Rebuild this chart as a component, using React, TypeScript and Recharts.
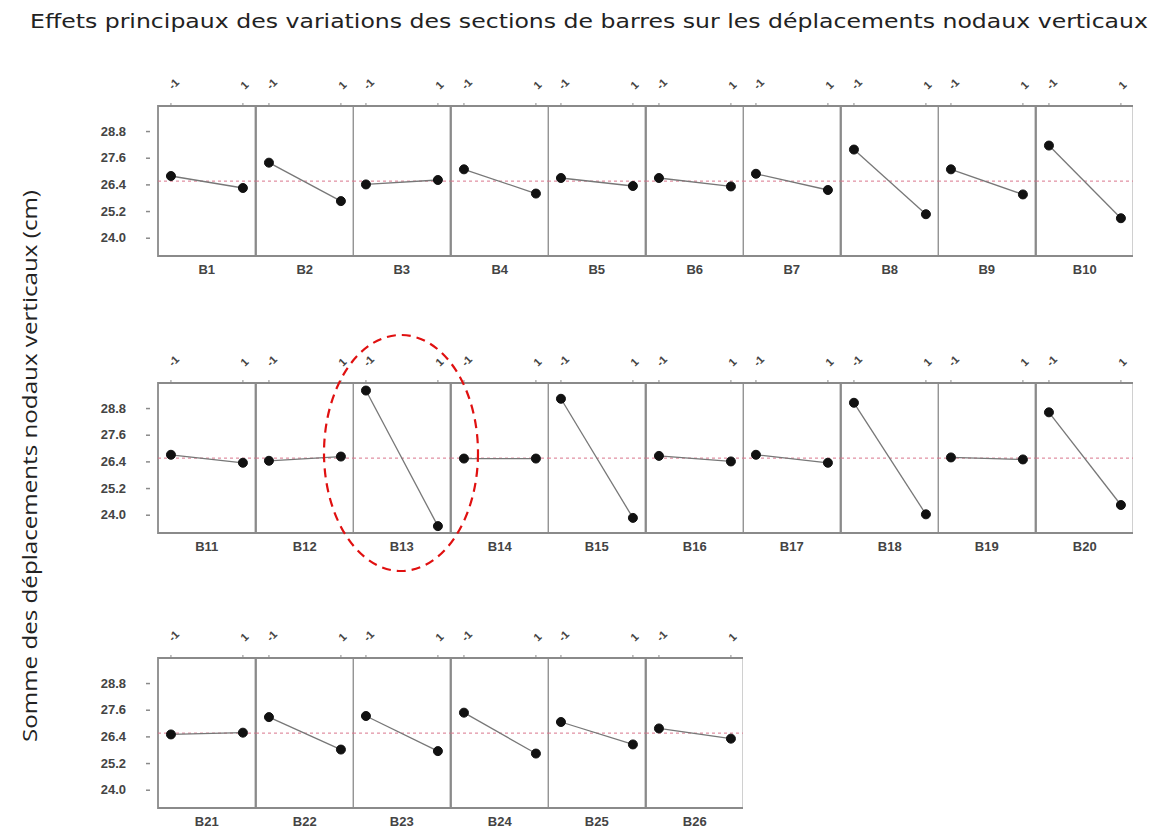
import { LineChart, Line, XAxis, YAxis, ReferenceLine, ReferenceArea } from 'recharts';

const panelNames = [
  'B1', 'B2', 'B3', 'B4', 'B5', 'B6', 'B7', 'B8', 'B9', 'B10',
  'B11', 'B12', 'B13', 'B14', 'B15', 'B16', 'B17', 'B18', 'B19', 'B20',
  'B21', 'B22', 'B23', 'B24', 'B25', 'B26',
];
// mean response at the low (-1) and high (1) level of each bar section
const lowLevel = [
  26.8, 27.4, 26.42, 27.1, 26.71, 26.71, 26.9, 27.99, 27.1, 28.17,
  26.72, 26.45, 29.61, 26.55, 29.24, 26.67, 26.72, 29.06, 26.6, 28.63,
  26.51, 27.29, 27.34, 27.49, 27.07, 26.78,
];
const highLevel = [
  26.26, 25.67, 26.62, 26.01, 26.35, 26.33, 26.17, 25.08, 25.97, 24.9,
  26.36, 26.64, 23.51, 26.55, 23.88, 26.42, 26.36, 24.04, 26.51, 24.46,
  26.59, 25.83, 25.76, 25.65, 26.06, 26.32,
];
const levels = [-1, 1];
const levelLabels = ['-1', '1'];
const yTicks = [24.0, 25.2, 26.4, 27.6, 28.8];
const grandMean = 26.57;

const xDomain = [-1.36, 1.35];
const yDomain = [23.2, 29.95];

const PW = 97.5;
const FRAME_H = 150;
const TOP_H = 30;
const BOT_H = 30;
const YAXIS_W = 100;
const LEFT = 158;
const PER_ROW = 10;
const rowTops = [106, 383, 658];
const FRAME = '#8a8a8a';

const TopTick = (props: any) => {
  const { x, y, payload } = props;
  const lbl = levelLabels[levels.indexOf(payload.value)];
  return (
    <text x={x + 2} y={y} transform={`rotate(-45 ${x + 2} ${y})`} fontSize={11} fill="#444" fontWeight="bold" fontFamily="Liberation Sans, Arial" textAnchor="start">
      {lbl}
    </text>
  );
};

const LeftTick = (props: any) => {
  const { x, y, payload } = props;
  return (
    <g>
      <line x1={x - 12} x2={x - 8} y1={y} y2={y} stroke={FRAME} strokeWidth={1.5} />
      <text x={x - 32} y={y} dy={4} textAnchor="end" fontSize={13} fill="#444" fontWeight="bold" fontFamily="Liberation Sans, Arial">
        {payload.value.toFixed(1)}
      </text>
    </g>
  );
};

function Panel({ idx }: { idx: number }) {
  const row = Math.floor(idx / PER_ROW);
  const col = idx % PER_ROW;
  const first = col === 0;
  const data = [
    { level: levels[0], value: lowLevel[idx] },
    { level: levels[1], value: highLevel[idx] },
  ];
  const w = PW + (first ? YAXIS_W : 0);
  const left = LEFT + col * PW - (first ? YAXIS_W : 0);
  const top = rowTops[row] - TOP_H;
  return (
    <div style={{ position: 'absolute', left, top }}>
      <LineChart width={w} height={TOP_H + FRAME_H + BOT_H} data={data} margin={{ top: 0, right: 0, bottom: BOT_H, left: 0 }}>
        <XAxis
          dataKey="level"
          type="number"
          domain={xDomain}
          ticks={levels}
          orientation="top"
          height={TOP_H}
          axisLine={false}
          tickLine={{ stroke: FRAME }}
          tickSize={3}
          tickMargin={13}
          tick={<TopTick />}
          allowDataOverflow
        />
        <YAxis
          type="number"
          domain={yDomain}
          ticks={yTicks}
          width={first ? YAXIS_W : 0}
          hide={!first}
          axisLine={false}
          tickLine={false}
          tickSize={0}
          tickMargin={0}
          tick={<LeftTick />}
          allowDataOverflow
        />
        <ReferenceArea
          x1={xDomain[0]}
          x2={xDomain[1]}
          y1={yDomain[0]}
          y2={yDomain[1]}
          fill="none"
          fillOpacity={0}
          stroke={FRAME}
          strokeWidth={1.8}
          label={{ value: panelNames[idx], position: 'bottom', offset: 9, fill: '#444', fontSize: 13, fontWeight: 'bold', fontFamily: 'Liberation Sans, Arial' }}
        />
        <ReferenceLine y={grandMean} stroke="#d9758c" strokeDasharray="3 3" strokeWidth={1} />
        <Line
          dataKey="value"
          stroke="#777"
          strokeWidth={1.3}
          dot={{ r: 4.5, fill: '#111', stroke: '#111', strokeWidth: 1 }}
          isAnimationActive={false}
        />
      </LineChart>
    </div>
  );
}

export default function App() {
  return (
    <div style={{ position: 'absolute', left: 0, top: 0, width: 1156, height: 833, background: '#fff', overflow: 'hidden' }}>
      {panelNames.map((_, i) => (
        <Panel key={i} idx={i} />
      ))}
      <svg width={1156} height={833} style={{ position: 'absolute', left: 0, top: 0, pointerEvents: 'none' }}>
        <text x={30} y={28} fontSize={19} textLength={1118} lengthAdjust="spacingAndGlyphs" fill="#222" fontFamily="DejaVu Sans, sans-serif">
          Effets principaux des variations des sections de barres sur les déplacements nodaux verticaux
        </text>
        <text
          x={37}
          y={466}
          fontSize={20}
          textAnchor="middle"
          textLength={552}
          lengthAdjust="spacingAndGlyphs"
          fill="#222"
          fontFamily="Open Sans, sans-serif"
          transform="rotate(-90 37 466)"
        >
          Somme des déplacements nodaux verticaux (cm)
        </text>
        <ellipse cx={401} cy={453} rx={77} ry={118} fill="none" stroke="#e01010" strokeWidth={2.2} strokeDasharray="9 6" />
      </svg>
    </div>
  );
}
